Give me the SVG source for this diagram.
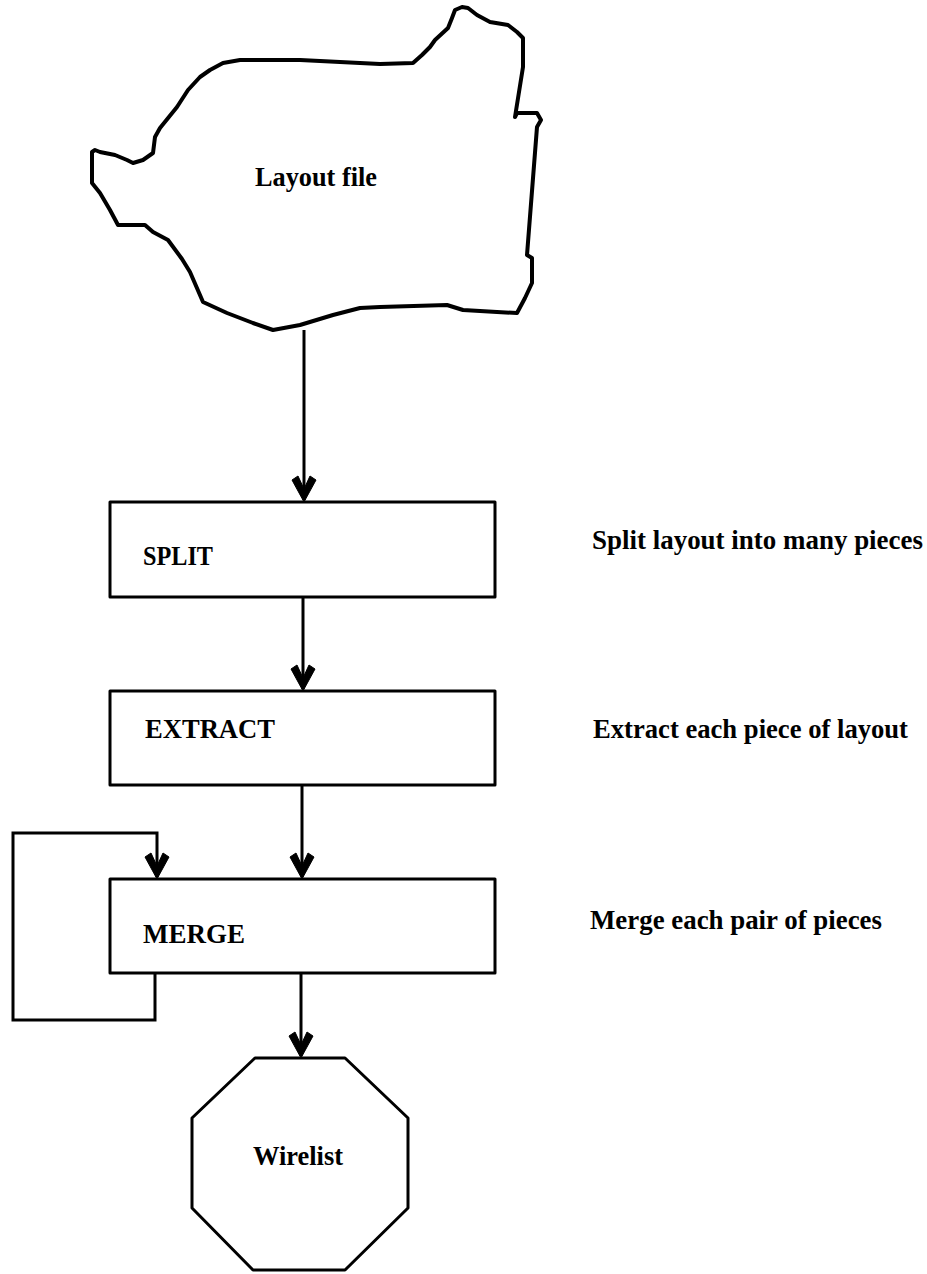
<svg xmlns="http://www.w3.org/2000/svg" width="927" height="1274" viewBox="0 0 927 1274">
  <style>
    .shape { fill: #ffffff; stroke: #000000; stroke-width: 3; stroke-linejoin: round; }
    .cloud { fill: #ffffff; stroke: #000000; stroke-width: 4; stroke-linejoin: round; }
    .conn { fill: none; stroke: #000000; stroke-width: 3; }
    .lbl { font-family: "Liberation Serif", "Times New Roman", serif; font-weight: bold; font-size: 27px; fill: #000000; }
  </style>
  <defs>
    <marker id="arrow" markerUnits="userSpaceOnUse" viewBox="-26 -13 29 26" refX="0" refY="0" markerWidth="29" markerHeight="26" orient="auto">
      <path d="M2,0 L-20,-12 L-24,-6 L-11,0 L-24,6 L-20,12 Z" fill="#000000" stroke="#000000" stroke-width="1" stroke-linejoin="round"/>
    </marker>
  </defs>
  <rect width="927" height="1274" fill="#ffffff"/>

  <g id="connectors">
    <path class="conn" d="M304,330 V500" marker-end="url(#arrow)"/>
    <path class="conn" d="M303,597 V689" marker-end="url(#arrow)"/>
    <path class="conn" d="M302,785 V877" marker-end="url(#arrow)"/>
    <path class="conn" d="M301,973 V1056" marker-end="url(#arrow)"/>
    <path class="conn" d="M155,973 V1020 H13 V833 H157 V877" marker-end="url(#arrow)"/>
  </g>

  <g id="layout-file">
    <path class="cloud" d="M100,152 L115,155 L127,160 L133,163 L143,160 L153,153 L155,137 L160,128 L177,107 L188,90 L200,77 L210,70 L223,63 L240,60 L300,60 L340,62 L380,64 L413,63 L422,55 L430,47 L435,40 L448,28 L452,18 L455,10 L462,7 L468,8 L477,15 L490,22 L508,25 L517,32 L523,38 L523,67 L515,117 L517,113 L537,113 L541,120 L537,127 L527,255 L532,258 L532,283 L525,298 L517,313 L497,312 L463,310 L447,305 L380,307 L360,308 L333,315 L300,325 L273,330 L253,323 L227,313 L203,302 L190,272 L182,259 L168,240 L153,232 L145,225 L118,225 L110,210 L100,193 L92,183 L92,152 L95,150 Z"/>
    <text class="lbl" x="255" y="186" textLength="122" lengthAdjust="spacingAndGlyphs">Layout file</text>
  </g>

  <g id="split">
    <rect class="shape" x="110" y="502" width="385" height="95"/>
    <text class="lbl" x="143" y="565" textLength="70" lengthAdjust="spacingAndGlyphs">SPLIT</text>
  </g>
  <text class="lbl" x="592" y="549" textLength="331" lengthAdjust="spacingAndGlyphs">Split layout into many pieces</text>

  <g id="extract">
    <rect class="shape" x="110" y="691" width="385" height="94"/>
    <text class="lbl" x="145" y="738" textLength="130" lengthAdjust="spacingAndGlyphs">EXTRACT</text>
  </g>
  <text class="lbl" x="593" y="738" textLength="315" lengthAdjust="spacingAndGlyphs">Extract each piece of layout</text>

  <g id="merge">
    <rect class="shape" x="110" y="879" width="385" height="94"/>
    <text class="lbl" x="143" y="943" textLength="102" lengthAdjust="spacingAndGlyphs">MERGE</text>
  </g>
  <text class="lbl" x="590" y="929" textLength="292" lengthAdjust="spacingAndGlyphs">Merge each pair of pieces</text>

  <g id="wirelist">
    <polygon class="shape" points="255,1058 345,1058 408,1118 408,1208 345,1270 253,1270 192,1208 192,1118"/>
    <text class="lbl" x="253" y="1165" textLength="90" lengthAdjust="spacingAndGlyphs">Wirelist</text>
  </g>
</svg>
